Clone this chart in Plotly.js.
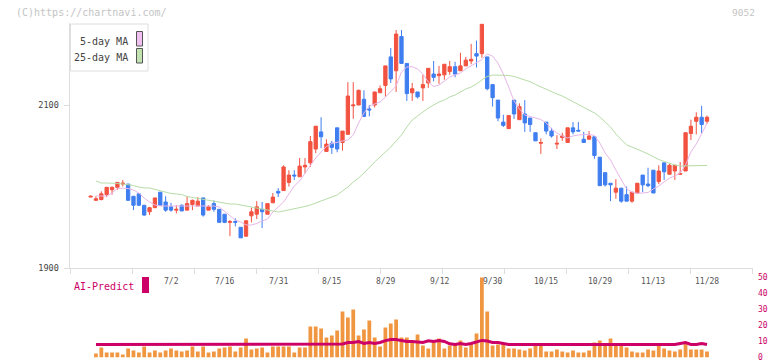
<!DOCTYPE html>
<html><head><meta charset="utf-8">
<script src="https://cdn.plot.ly/plotly-3.0.1.min.js"></script>
<style>html,body{margin:0;padding:0;background:#fff;}#chart{width:772px;height:361px;}</style>
</head><body><div id="chart"></div>
<script>
// ---------- DATA ----------
const openP = [1987,1983,1984,1990,1996,1999,2003,2003,1988,1991,
1977,1969,1974,1993,1981,1975,1971,1977,1971,1978,
1976,1986,1971,1979,1972,1966,1956,1957,1950,1939,
1964,1966,1972,1966,1980,1994,1995,2005,2014,2012,
2024,2029,2046,2067,2043,2053,2072,2054,2064,2099,
2100,2107,2095,2100,2115,2124,2159,2142,2184,2151,
2115,2116,2121,2127,2138,2136,2137,2141,2147,2142,
2148,2154,2163,2163,2159,2125,2106,2079,2071,2106,
2082,2089,2084,2066,2053,2079,2068,2052,2060,2054,
2072,2069,2058,2058,2061,2036,2017,2004,1993,1998,
1990,1982,1992,2014,2003,2020,2006,2029,2015,2019,
2015,2019,2065,2080,2085,2080];
const highP = [1989,1988,1994,1999,2000,2005,2008,2003,1988,1991,
1977,1975,1986,1993,1988,1980,1977,1978,1988,1984,
1987,1986,1977,1983,1972,1966,1959,1961,1950,1958,
1974,1982,1981,1979,1992,1998,2026,2020,2020,2035,
2035,2062,2074,2085,2058,2056,2072,2068,2128,2128,
2119,2118,2100,2116,2124,2148,2170,2192,2192,2151,
2127,2116,2137,2145,2154,2148,2150,2154,2153,2164,
2159,2175,2179,2199,2159,2125,2106,2088,2087,2106,
2102,2106,2084,2066,2059,2079,2072,2063,2066,2072,
2079,2079,2067,2068,2061,2036,2017,2004,2009,1998,
2000,1993,2004,2014,2023,2020,2026,2029,2028,2026,
2030,2066,2082,2091,2099,2087];
const lowP = [1987,1983,1983,1987,1990,1996,2000,1983,1971,1976,
1964,1965,1974,1977,1969,1969,1967,1970,1971,1971,
1976,1963,1971,1969,1956,1955,1939,1951,1937,1939,
1956,1960,1949,1966,1980,1987,1995,2000,2008,2012,
2016,2024,2041,2047,2043,2040,2042,2044,2064,2083,
2100,2086,2086,2097,2115,2110,2127,2116,2151,2105,
2105,2108,2105,2121,2129,2126,2131,2137,2134,2142,
2148,2150,2146,2158,2118,2098,2080,2073,2071,2083,
2082,2067,2067,2056,2040,2064,2060,2046,2056,2054,
2064,2068,2054,2058,2034,2001,2000,1982,1985,1980,
1982,1980,1992,1993,1999,1992,2003,2008,2015,2008,
2014,2019,2057,2064,2065,2077];
const closeP = [1988,1985,1991,1999,1999,2005,2004,1983,1977,1977,
1965,1974,1986,1977,1971,1971,1972,1970,1979,1983,
1982,1965,1975,1972,1956,1956,1957,1956,1937,1958,
1969,1975,1969,1979,1987,1992,2024,2014,2013,2025,
2026,2055,2074,2061,2052,2048,2046,2068,2111,2100,
2118,2086,2094,2116,2120,2148,2132,2187,2151,2114,
2120,2110,2125,2145,2134,2138,2150,2147,2138,2148,
2155,2156,2160,2199,2120,2109,2084,2075,2087,2089,
2098,2078,2076,2056,2054,2068,2062,2053,2062,2072,
2067,2068,2054,2062,2038,2001,2002,2002,1998,1982,
1982,1993,2004,2002,2001,1992,2019,2018,2026,2026,
2016,2066,2074,2085,2076,2085];
const ma5 = [null,1988.3,1988.3,1988.3,1991.9,1997.8,1997.8,1997.5,1995.7,1991.9,
1985.8,1980.9,1977.3,1976.1,1976.1,1976.1,1976.1,1976.1,1976.1,1976.1,
1976.1,1976.1,1976.7,1976.1,1974.8,1969.1,1963.8,1958.9,1956.4,1952.8,
1952.8,1954.6,1957.7,1960.1,1968.7,1974.8,1980.9,1990.8,2000.6,2006.7,
2016.6,2025.2,2035.0,2042.3,2049.1,2052.8,2054.6,2055.8,2057.0,2063.2,
2077.9,2090.2,2098.8,2101.2,2103.7,2109.8,2116.0,2123.3,2140.5,2146.6,
2147.0,2144.2,2138.0,2128.2,2122.7,2124.5,2129.4,2134.4,2136.8,2139.3,
2144.2,2147.9,2152.1,2155.8,2162.6,2160.1,2151.5,2138.0,2122.1,2104.9,
2095.1,2087.7,2085.9,2084.0,2082.2,2077.9,2070.6,2065.6,2062.0,2059.5,
2062.0,2063.2,2063.8,2064.0,2062.6,2053.4,2041.1,2032.5,2020.2,2008.0,
1997.0,1993.2,1991.7,1992.0,1992.6,1997.0,2000.6,2005.5,2010.4,2012.9,
2016.6,2026.4,2042.3,2052.1,2065.6,2077.5];
const ma25 = [null,2006.7,2004.3,2004.3,2004.3,2003.7,2003.1,2002.5,2001.2,1999.4,
1998.2,1998.2,1996.3,1994.5,1993.2,1991.4,1990.8,1990.2,1987.7,1986.5,
1985.9,1984.7,1983.4,1982.2,1981.0,1979.8,1978.5,1978.5,1977.3,1976.1,
1974.2,1973.6,1972.4,1970.5,1969.3,1968.7,1969.9,1971.2,1972.4,1973.6,
1975.5,1977.3,1979.8,1981.6,1984.0,1987.1,1989.6,1994.5,1999.4,2005.5,
2010.4,2016.6,2023.9,2030.1,2036.2,2042.3,2048.5,2055.8,2063.2,2073.0,
2081.6,2086.5,2091.4,2096.3,2100.0,2103.7,2106.1,2109.8,2112.3,2116.0,
2119.6,2122.1,2125.8,2130.7,2135.0,2136.8,2136.8,2136.8,2136.2,2135.0,
2133.1,2131.3,2128.6,2125.2,2122.1,2119.0,2116.0,2113.5,2111.0,2107.4,
2104.3,2101.2,2097.5,2093.9,2090.2,2085.3,2079.1,2073.0,2064.4,2057.0,
2050.9,2048.5,2046.0,2042.9,2039.9,2036.2,2033.2,2030.7,2028.5,2026.4,
2025.2,2025.2,2025.2,2025.2,2025.2,2025.8];
const volume = [null,2.5,6.2,3.1,3.1,3.1,1.9,5.6,4.3,3.1,
6.8,3.1,4.3,3.1,4.3,5.6,4.3,3.7,4.3,6.8,
3.7,6.8,3.1,3.7,5.6,6.2,6.8,3.7,6.2,11.8,
5.0,5.6,6.2,3.1,6.8,6.8,6.8,6.8,3.1,6.2,
6.2,19.3,19.3,18.0,12.4,13.7,16.8,28.6,24.8,29.8,
13.7,17.4,23.0,12.4,6.8,18.6,21.1,23.6,12.4,12.4,
10.6,14.3,7.5,5.6,10.6,11.8,5.6,7.5,8.1,10.6,
6.2,8.1,14.9,49.7,28.6,7.5,8.1,8.7,5.6,5.6,
5.0,4.3,5.6,7.5,7.5,3.7,3.7,5.0,3.7,3.1,
4.3,3.1,3.1,4.3,9.3,10.6,8.1,11.8,7.5,7.5,
6.2,3.7,3.1,3.1,5.0,4.3,7.5,5.6,4.3,3.7,
5.0,8.7,5.0,5.0,5.0,3.7];
const aiPredict = [null,8.1,8.1,8.1,8.1,8.1,8.1,8.1,8.1,8.1,
8.1,8.1,8.1,8.1,8.1,8.1,8.1,8.1,8.1,8.1,
8.1,8.1,8.1,8.1,8.1,8.1,8.1,8.1,8.1,8.1,
8.1,8.1,8.1,8.1,8.1,8.1,8.1,8.1,8.1,8.1,
8.1,8.1,8.1,8.1,8.1,8.1,8.1,8.4,9.3,9.3,
9.9,8.7,9.3,8.7,9.3,10.5,11.2,11.2,10.5,9.9,
9.9,9.6,9.3,10.4,9.9,10.6,10.0,8.5,8.1,8.7,
8.1,8.7,9.6,10.6,10.2,9.3,9.3,8.7,8.1,8.1,
8.1,8.1,8.1,8.1,8.1,8.1,8.1,8.1,8.1,8.1,
8.1,8.1,8.1,8.1,8.1,8.1,8.1,8.1,8.1,8.1,
8.1,8.1,8.1,8.1,8.1,8.1,8.1,8.1,8.1,8.1,
8.7,9.3,8.1,8.1,8.7,8.1];
const dateLabelIdx = [15,25,35,45,55,65,75,85,95,105,115];
const dateLabels = ['7/2','7/16','7/31','8/15','8/29','9/12','9/30','10/15','10/29','11/13','11/28'];
const priceTicks = [1900,2100];
const priceTickText = ['1900','2100'];
const aiTicks = [0,10,20,30,40,50];
const aiTickText = ['0','10','20','30','40','50'];
const legendNames = ['5-day MA','25-day MA'];
const code = '9052';
const credit = '(C)https://chartnavi.com/';

// ---------- LAYOUT HELPERS ----------
const W=772,H=361,L=70,R=19;
const PW=W-L-R;
const slot=5.36, x0px=90.6;           // pixel spacing of trading days
const toIdx = px => (px - x0px)/slot;
const xr=[toIdx(L), toIdx(W-R)];
const fx = px => (px-L)/PW;            // paper x from pixel
const fy = py => 1-py/H;               // paper y from pixel
const idx = openP.map((_,i)=>i);
const MONO='DejaVu Sans Mono, Liberation Mono, monospace';
const RED='#f25240', BLUE='#3f7ef0', CRIM='#cc0066';

const traces = [
 {type:'candlestick', x:idx, open:openP, high:highP, low:lowP, close:closeP,
  xaxis:'x', yaxis:'y', whiskerwidth:0, hoverinfo:'none',
  increasing:{line:{color:RED,width:1}, fillcolor:RED},
  decreasing:{line:{color:BLUE,width:1}, fillcolor:BLUE}},
 {type:'scatter', mode:'lines', x:idx, y:ma5, xaxis:'x', yaxis:'y',
  line:{color:'#e8b6e8', width:1}, hoverinfo:'none'},
 {type:'scatter', mode:'lines', x:idx, y:ma25, xaxis:'x', yaxis:'y',
  line:{color:'#b6dca6', width:1}, hoverinfo:'none'},
 {type:'bar', x:idx, y:volume, xaxis:'x2', yaxis:'y2', width:0.7,
  marker:{color:'#f09640', line:{width:0}}, hoverinfo:'none'},
 {type:'scatter', mode:'lines', x:idx, y:aiPredict, xaxis:'x2', yaxis:'y2',
  line:{color:CRIM, width:3}, hoverinfo:'none'}
];

const priceTop = 1900 + (268-23)/0.815;
const annotations = dateLabelIdx.map((d,k)=>({x:d, xref:'x', y:fy(281.5), yref:'paper',
  text:dateLabels[k], showarrow:false, xanchor:'center', yanchor:'middle',
  font:{family:MONO, size:8, color:'#555'}}));
annotations.push(
 {x:fx(14), y:fy(12), xref:'paper', yref:'paper', text:credit, showarrow:false,
  xanchor:'left', yanchor:'middle', font:{family:MONO,size:10,color:'#c4c4c4'}},
 {x:fx(757), y:fy(12), xref:'paper', yref:'paper', text:code, showarrow:false,
  xanchor:'right', yanchor:'middle', font:{family:MONO,size:9.5,color:'#c4c4c4'}},
 {x:fx(130), y:fy(41), xref:'paper', yref:'paper', text:legendNames[0], showarrow:false,
  xanchor:'right', yanchor:'middle', font:{family:MONO,size:10,color:'#444'}},
 {x:fx(130), y:fy(57), xref:'paper', yref:'paper', text:legendNames[1], showarrow:false,
  xanchor:'right', yanchor:'middle', font:{family:MONO,size:10,color:'#444'}},
 {x:fx(136), y:fy(286), xref:'paper', yref:'paper', text:'AI-Predict', showarrow:false,
  xanchor:'right', yanchor:'middle', font:{family:MONO,size:10,color:CRIM}}
);
const shapes = [
 {type:'rect', xref:'paper', yref:'paper', x0:fx(70.5), x1:fx(148), y0:fy(71), y1:fy(24),
  fillcolor:'#ffffff', line:{color:'#dedede', width:1}, layer:'above'},
 {type:'rect', xref:'paper', yref:'paper', x0:fx(136.5), x1:fx(142.5), y0:fy(46), y1:fy(31.5),
  fillcolor:'#f0c0f0', line:{color:'#555', width:1}, layer:'above'},
 {type:'rect', xref:'paper', yref:'paper', x0:fx(136.5), x1:fx(142.5), y0:fy(63), y1:fy(48.5),
  fillcolor:'#c2e2b2', line:{color:'#555', width:1}, layer:'above'},
 {type:'rect', xref:'paper', yref:'paper', x0:fx(142), x1:fx(149), y0:fy(293), y1:fy(277),
  fillcolor:CRIM, line:{width:0}, layer:'above'}
];

const layout = {
 width:W, height:H, margin:{l:L, r:R, t:0, b:0},
 paper_bgcolor:'#fff', plot_bgcolor:'rgba(0,0,0,0)', showlegend:false,
 boxgap:0.12, bargap:0.3,
 xaxis:{domain:[0,1], anchor:'y', range:xr, showline:true, linecolor:'#dddddd', linewidth:1,
   ticks:'outside', ticklen:5, tickcolor:'#dddddd', tickwidth:1,
   tick0:toIdx(70.7), dtick:62/slot, showticklabels:false, showgrid:false, zeroline:false,
   rangeslider:{visible:false}, fixedrange:true},
 xaxis3:{overlaying:'x', anchor:'y', range:xr, ticks:'inside', ticklen:4, tickcolor:'#dddddd',
   tick0:toIdx(70.7), dtick:62/slot, showticklabels:false, showgrid:false, zeroline:false, showline:false},
 yaxis:{domain:[fy(268), fy(23)], anchor:'x', range:[1900, priceTop], showline:true,
   linecolor:'#dddddd', linewidth:1.5, ticks:'outside', ticklen:5, tickcolor:'#dddddd',
   tickvals:priceTicks, ticktext:priceTickText, ticklabelstandoff:3,
   tickfont:{family:MONO, size:8.5, color:'#444'}, showgrid:false, zeroline:false, fixedrange:true},
 xaxis2:{domain:[0,1], anchor:'y2', range:xr, showline:false, ticks:'', showticklabels:false,
   showgrid:false, zeroline:false, fixedrange:true},
 yaxis2:{domain:[fy(357.5), fy(277)], anchor:'x2', range:[0, (357.5-277)/1.61], side:'right',
   tickvals:aiTicks, ticktext:aiTickText, ticks:'', showline:false, showgrid:false, zeroline:false,
   ticklabeloverflow:'allow',
   ticklabelstandoff:4, tickfont:{family:MONO, size:8, color:CRIM}, fixedrange:true},
 annotations:annotations, shapes:shapes
};
Plotly.newPlot('chart', traces, layout, {staticPlot:true, displayModeBar:false});
</script></body></html>
